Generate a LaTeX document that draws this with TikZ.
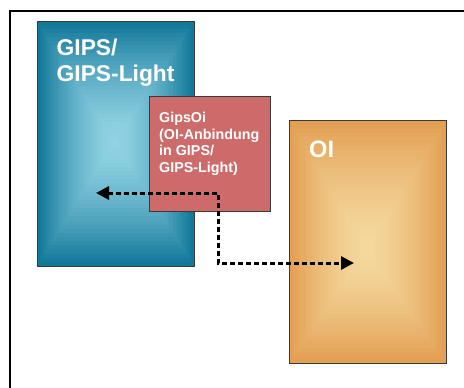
\documentclass[tikz,border=0pt]{standalone}
\usepackage{fontspec}
\setmainfont{Liberation Sans}
\usetikzlibrary{arrows.meta}
\definecolor{blueout}{HTML}{127899}
\definecolor{bluein}{HTML}{93D4E5}
\definecolor{orout}{HTML}{E39F52}
\definecolor{orin}{HTML}{F4D99F}
\definecolor{redbox}{HTML}{CD6B6B}
\definecolor{boxline}{HTML}{3A3A3A}
\newcommand\rectgrad[8]{%
  \foreach \i in {0,...,29}{%
    \pgfmathsetmacro\tt{\i/30}%
    \pgfmathtruncatemacro\pp{100*(1-(1-\tt)^1.5)}%
    \fill[#8!\pp!#7] ({#1+\tt*(#5-#1)},{#2+\tt*(#6-#2)}) rectangle ({#3+\tt*(#5-#3)},{#4+\tt*(#6-#4)});
  }}
\begin{document}
\begin{tikzpicture}[x=1pt,y=-1pt,
  boxframe/.style={draw=boxline,line width=0.9pt},
  bigtext/.style={text=white,font=\bfseries\fontsize{22.8}{26}\selectfont,align=left,inner sep=0pt,anchor=base west},
  smalltext/.style={text=white,font=\bfseries\fontsize{14.3}{16.5}\selectfont,align=left,inner sep=0pt,anchor=base west},
  conn/.style={line width=3pt,dash pattern=on 4.5pt off 3.5pt,{Triangle[length=13pt,width=13pt]}-{Triangle[length=13pt,width=13pt]}}]
\useasboundingbox (0,0) rectangle (464,388);
% frame
\draw[line width=2pt] (10,400) -- (10,11) -- (470,11);
% blue box
\rectgrad{37}{21}{194}{266}{115}{142}{blueout}{bluein}
\draw[boxframe] (37,21) rectangle (194,266);
\coordinate (gipsbox) at (115,142);
% orange box
\rectgrad{289}{120}{446}{363}{367}{250}{orout}{orin}
\draw[boxframe] (289,120) rectangle (446,363);
% red box
\node[boxframe,fill=redbox,minimum width=121pt,minimum height=115pt,inner sep=0pt,anchor=north west] (gipsoibox) at (149,96) {};
% texts
\node[bigtext] (gipslabel) at (56.5,81.5) {GIPS/\\GIPS-Light};
\node[smalltext] (gipsoilabel) at (159,172) {GipsOi\\(OI-Anbindung\\in GIPS/\\GIPS-Light)};
\node[text=white,font=\bfseries\fontsize{23.7}{28}\selectfont,inner sep=0pt,anchor=base west] (oilabel) at (309,157) {OI};
% connector
\coordinate (lefttip) at (96,193);
\coordinate (corner) at (218,193);
\coordinate (bend) at (218,263);
\coordinate (righttip) at (354,263);
\draw[conn] (lefttip) -- (corner) -- (bend) -- (righttip);
\end{tikzpicture}
\end{document}
